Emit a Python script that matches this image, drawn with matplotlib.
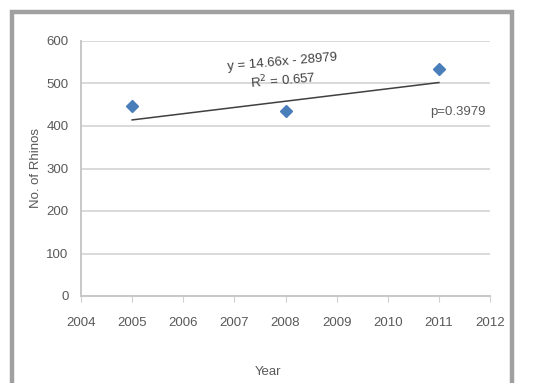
import matplotlib
matplotlib.use("Agg")
import matplotlib.pyplot as plt
from matplotlib.patches import Rectangle
import numpy as np

# Rhino counts by census year
years = [2005, 2008, 2011]
rhinos = [447, 435, 535]

# Linear trend as reported on the chart
slope = 14.66
intercept = -28979
r_squared = 0.657
p_value = 0.3979

x_ticks = list(range(2004, 2013))
y_ticks = list(range(0, 601, 100))

plt.rcParams['font.family'] = ['Liberation Sans', 'DejaVu Sans']
text_col = '#595959'

fig = plt.figure(figsize=(5.43, 3.83), dpi=100)
ax = fig.add_axes([81 / 543, 1 - 296 / 383, (490 - 81) / 543, (296 - 41) / 383])

ax.set_xlim(2004, 2012)
ax.set_ylim(0, 600)
ax.set_xticks(x_ticks)
ax.set_yticks(y_ticks)
ax.tick_params(axis='both', labelsize=9.5, colors=text_col)
ax.tick_params(axis='y', length=0, pad=9)
ax.tick_params(axis='x', length=4, direction='out', color='#d0d0d0', pad=11)

ax.grid(axis='y', color='#d9d9d9', linewidth=1.4)
ax.set_axisbelow(True)
for s in ['top', 'right']:
    ax.spines[s].set_visible(False)
for s in ['left', 'bottom']:
    ax.spines[s].set_color('#c8c8c8')
    ax.spines[s].set_linewidth(1.4)

# Trend line over the observed years
tx = np.array([years[0], years[-1]], dtype=float)
ax.plot(tx, slope * tx + intercept, color='#404040', linewidth=1.1, zorder=2)

ax.plot(years, rhinos, linestyle='none', marker='D', markersize=6,
        color='#4a7ebb', zorder=3)

ax.text(2007.93, 549, f'y = {slope}x - {abs(intercept)}', ha='center', va='center',
        rotation=5, fontsize=9.5, color='#404040')
ax.text(2007.95, 508, f'R$^2$ = {r_squared}', ha='center', va='center',
        rotation=5, fontsize=9.5, color='#404040')
ax.text(2011.38, 433, f'p={p_value}', ha='center', va='center',
        fontsize=9.5, color=text_col)

ax.set_xlabel('Year', fontsize=9.5, color=text_col)
ax.xaxis.set_label_coords(0.457, -0.275)
ax.set_ylabel('No. of Rhinos', fontsize=9.5, color=text_col, labelpad=3)

# Chart border
fig.patches.append(Rectangle((12 / 543, -0.01), (512 - 12) / 543, 1 - 12 / 383 + 0.01,
                             transform=fig.transFigure, fill=False,
                             edgecolor='#a0a0a0', linewidth=3.2))

fig.savefig('out.png', dpi=100)
